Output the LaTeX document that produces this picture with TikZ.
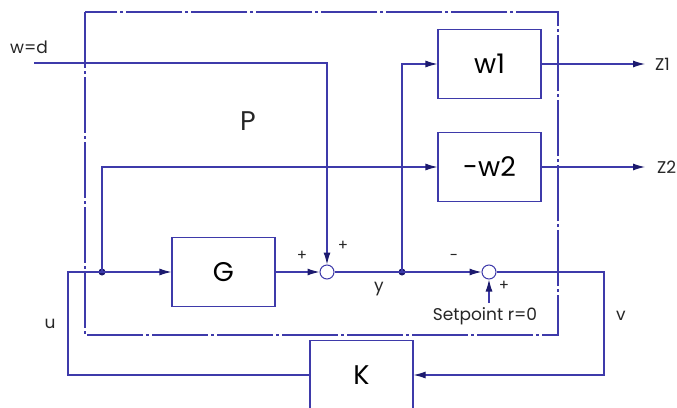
\documentclass[tikz,border=0pt]{standalone}
\usepackage{fontspec}
\setmainfont{Poppins}
\usetikzlibrary{arrows.meta}

\definecolor{wire}{RGB}{62,58,170}
\definecolor{tipc}{RGB}{28,26,110}

\tikzset{
  blk/.style={draw=wire, line width=1.1pt, minimum width=103pt, minimum height=69pt,
    inner sep=0pt, font=\fontsize{27}{27}\selectfont},
  sumj/.style={draw=wire, circle, line width=1pt, minimum size=14pt, inner sep=0pt},
  sig/.style={draw=wire, line width=1.1pt, -{Latex[length=12pt, width=7pt, color=tipc]}},
  wir/.style={draw=wire, line width=1.1pt},
  lbl/.style={font=\fontsize{17}{17}\selectfont, text=black!85, inner sep=0pt},
  sgn/.style={font=\fontsize{15}{15}\selectfont, text=black!85, inner sep=0pt},
}

\begin{document}
\begin{tikzpicture}[x=1pt, y=-1pt]

  \clip (0,0) rectangle (677,407);
  \fill[white] (0,0) rectangle (677,407);

  % --- 1. generalised plant P (dash-dot frame) ---
  \draw[wire, line width=1.1pt, dash pattern=on 56pt off 3pt on 3pt off 3pt]
    (85,12) rectangle (558,335);
  \node[lbl, font=\fontsize{27}{27}\selectfont] (Plbl) at (248,121) {P};

  % --- 2. blocks ---
  \node[blk] (G)  at (223.5,272) {G};
  \node[blk] (w1) at (489.5,64)  {w1};
  \node[blk] (w2) at (489.5,167) {-w2};
  \node[blk] (K)  at (361.5,375) {K};

  % summing junctions
  \node[sumj] (sum1) at (327,272) {};
  \node[sumj] (sum2) at (489,272) {};

  % --- 3. branch points ---
  \coordinate (ud) at (102,272);
  \coordinate (yd) at (402,272);
  \coordinate (uc) at (68,272);
  \coordinate (vc) at (604,272);
  \coordinate (wd) at (34,63);
  \fill[tipc] (ud) circle (3.5pt);
  \fill[tipc] (yd) circle (3.5pt);

  % --- 4. signals ---
  \draw[sig] (wd) -| (sum1.north);
  \draw[sig] (K.west) -| (uc) -- (G.west);
  \draw[sig] (ud) |- (w2.west);
  \draw[sig] (G.east) -- (sum1.west);
  \draw[wir] (sum1.east) -- (yd);
  \draw[sig] (yd) -- (sum2.west);
  \draw[sig] (yd) |- (w1.west);
  \draw[sig] (sum2.east) -- (vc) |- (K.east);

  % outputs z1, z2
  \foreach \blk/\nm/\tx in {w1/Z1/Z1, w2/Z2/Z2}{
    \coordinate (\nm) at (645,0 |- \blk.east);
    \draw[sig] (\blk.east) -- (\nm);
  }
  \node[lbl, anchor=west] (Z1lbl) at ([xshift=10pt]Z1) {Z1};
  \node[lbl, anchor=west] (Z2lbl) at ([xshift=12pt]Z2) {Z2};

  % setpoint
  \node[lbl] (sp) at (485,316) {Setpoint r=0};
  \draw[sig] (sum2.south |- sp.north) ++(0,-4) -- (sum2.south);

  % --- 5. labels ---
  \node[lbl] (wdlbl) at (29,47) {w=d};
  \node[lbl] (ylbl)  at (379,289) {y};
  \node[lbl] (ulbl)  at (50,324) {u};
  \node[lbl] (vlbl)  at (621,316) {v};
  \node[sgn] (p1)    at (302,256) {+};
  \node[sgn] (p2)    at (343,246) {+};
  \node[sgn] (m3)    at (454,257) {-};
  \node[sgn] (p4)    at (504,286) {+};

\end{tikzpicture}
\end{document}
